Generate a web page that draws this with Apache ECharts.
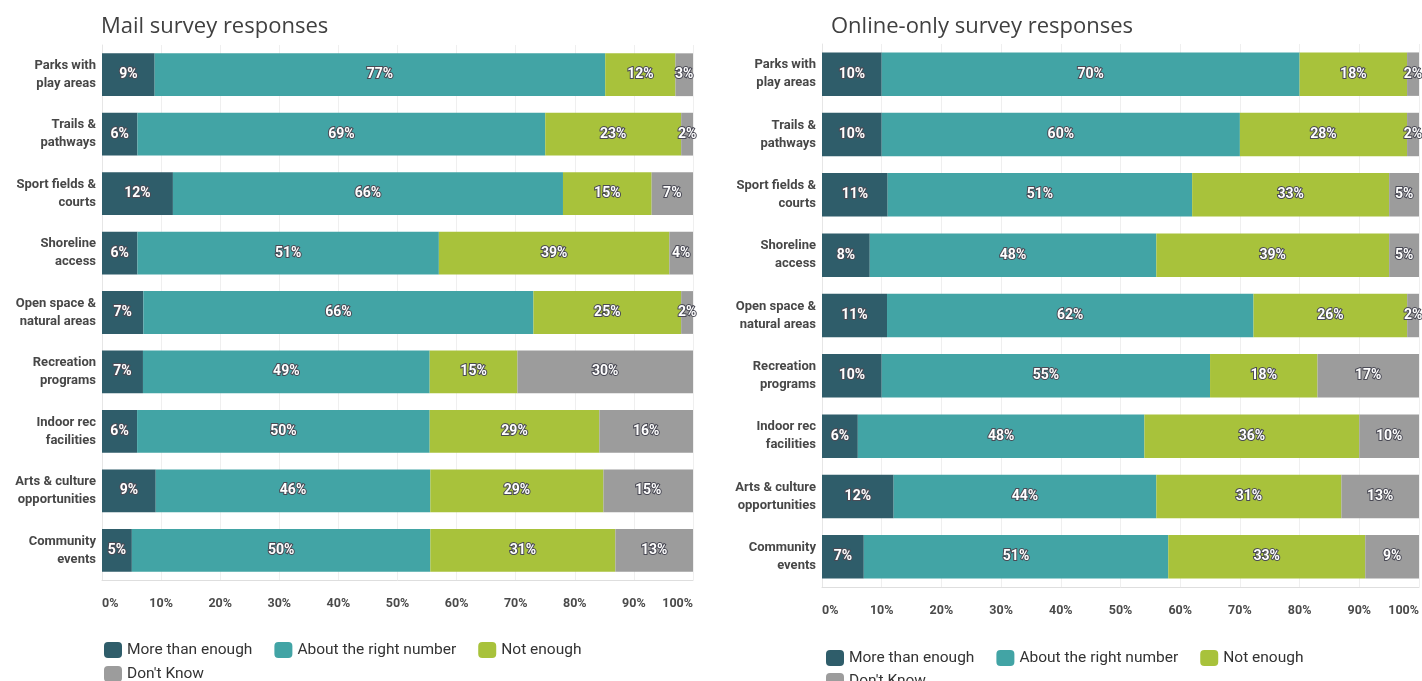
<!DOCTYPE html>
<html>
<head>
<meta charset="utf-8">
<script src="https://cdn.jsdelivr.net/npm/echarts@6/dist/echarts.min.js"></script>
<style>
html,body{margin:0;padding:0;background:#fff;}
#chart{width:1422px;height:681px;}
</style>
</head>
<body>
<div id="chart"></div>
<script>
const categories = ['Parks with\nplay areas','Trails &\npathways','Sport fields &\ncourts','Shoreline\naccess','Open space &\nnatural areas','Recreation\nprograms','Indoor rec\nfacilities','Arts & culture\nopportunities','Community\nevents'];
const seriesNames = ['More than enough','About the right number','Not enough',"Don't Know"];
const titles = ['Mail survey responses','Online-only survey responses'];

const mailMoreThanEnough = [9,6,12,6,7,7,6,9,5];
const mailAboutRight     = [77,69,66,51,66,49,50,46,50];
const mailNotEnough      = [12,23,15,39,25,15,29,29,31];
const mailDontKnow       = [3,2,7,4,2,30,16,15,13];

const onlineMoreThanEnough = [10,10,11,8,11,10,6,12,7];
const onlineAboutRight     = [70,60,51,48,62,55,48,44,51];
const onlineNotEnough      = [18,28,33,39,26,18,36,31,33];
const onlineDontKnow       = [2,2,5,5,2,17,10,13,9];

const colors = ['#2f5d6a','#42a4a5','#a8c23b','#9c9c9c'];

const mailData = [mailMoreThanEnough, mailAboutRight, mailNotEnough, mailDontKnow];
const onlineData = [onlineMoreThanEnough, onlineAboutRight, onlineNotEnough, onlineDontKnow];

const chart = echarts.init(document.getElementById('chart'));

function xAxisCfg(gi){
  return {
    type:'value', gridIndex:gi, min:0, max:100, interval:10,
    axisLine:{show:true, lineStyle:{color:'#dedede'}},
    axisTick:{show:false},
    splitLine:{show:true, lineStyle:{color:'#efefef'}},
    axisLabel:{formatter:'{value}%', color:'#4a4a4a', fontFamily:'Roboto', fontWeight:'bold', fontSize:12.5, margin:17, hideOverlap:false, alignMinLabel:'left', alignMaxLabel:'right'}
  };
}
function yAxisCfg(gi){
  return {
    type:'category', gridIndex:gi, data:categories, inverse:true,
    axisLine:{show:true, lineStyle:{color:'#e6e6e6'}},
    axisTick:{show:false},
    axisLabel:{color:'#474747', fontFamily:'Roboto', fontWeight:'bold', fontSize:13, lineHeight:18, margin:6, align:'right'}
  };
}
function makeSeries(dataSets, gi){
  const sums = categories.map((c,j)=>dataSets.reduce((s,d)=>s+d[j],0));
  return dataSets.map((d,i)=>({
    name:seriesNames[i], type:'bar', stack:'s'+gi, xAxisIndex:gi, yAxisIndex:gi,
    data:d.map((v,j)=>v/sums[j]*100), barCategoryGap:'28%', itemStyle:{color:colors[i]},
    label:{show:true, position:'inside', formatter:p=>d[p.dataIndex]+'%', color:'#fff', fontFamily:'Roboto', fontWeight:'bold', fontSize:14, textBorderColor:'#4a4a55', textBorderWidth:2},
    emphasis:{disabled:true}
  }));
}
const legendText = {color:'#333', fontFamily:'Roboto', fontSize:15.5};
chart.setOption({
  animation:false,
  color:colors,
  title:[
    {text:titles[0], left:96, top:11, textStyle:{fontFamily:'Open Sans', fontWeight:'normal', fontSize:22, color:'#404040'}},
    {text:titles[1], left:826, top:11, textStyle:{fontFamily:'Open Sans', fontWeight:'normal', fontSize:22, color:'#404040'}}
  ],
  grid:[
    {left:102, width:591, top:45, height:535},
    {left:822, width:600, top:44, height:543}
  ],
  xAxis:[xAxisCfg(0), xAxisCfg(1)],
  yAxis:[yAxisCfg(0), yAxisCfg(1)],
  legend:[
    {left:99, top:637, itemWidth:18, itemHeight:16, itemGap:22, icon:'roundRect', data:seriesNames.slice(0,3), textStyle:legendText, selectedMode:false},
    {left:99, top:661, itemWidth:18, itemHeight:16, icon:'roundRect', data:seriesNames.slice(3), textStyle:legendText, selectedMode:false},
    {left:821, top:645, itemWidth:18, itemHeight:16, itemGap:22, icon:'roundRect', data:seriesNames.slice(0,3), textStyle:legendText, selectedMode:false},
    {left:821, top:668, itemWidth:18, itemHeight:16, icon:'roundRect', data:seriesNames.slice(3), textStyle:legendText, selectedMode:false}
  ],
  series:[...makeSeries(mailData,0), ...makeSeries(onlineData,1)]
});
</script>
</body>
</html>
